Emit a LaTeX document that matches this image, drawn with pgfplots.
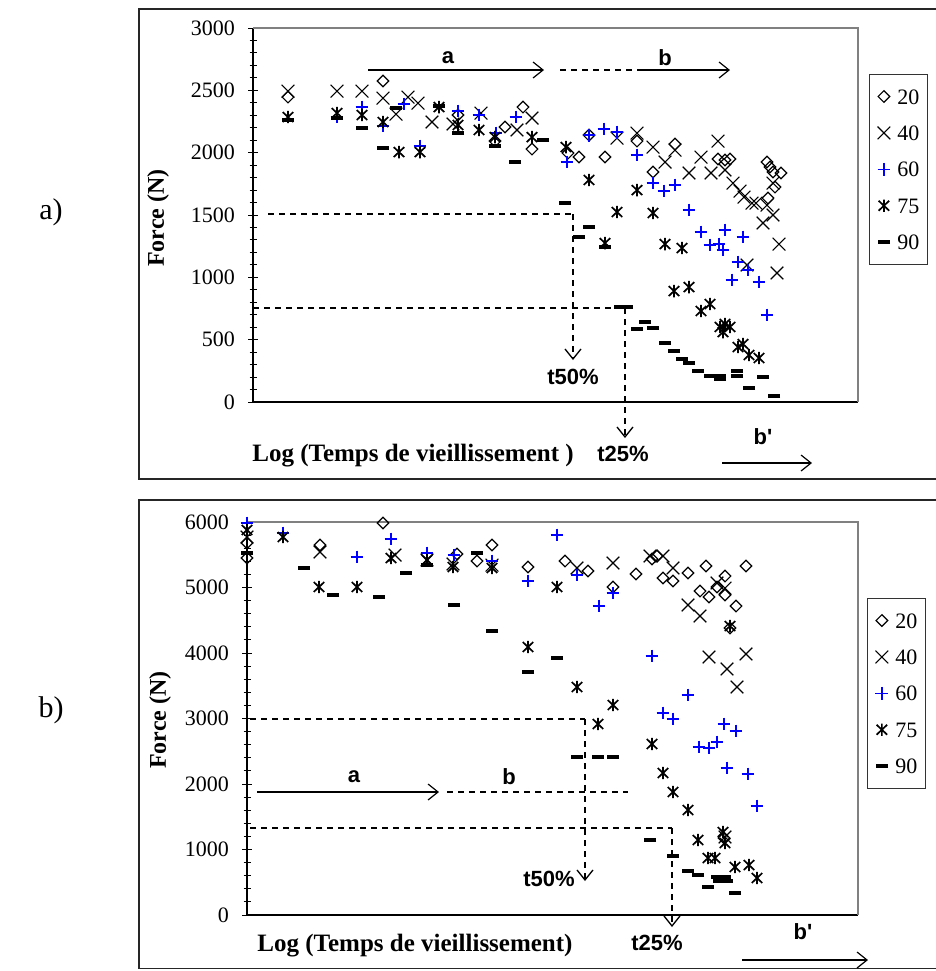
\documentclass[border=0pt]{standalone}
\usepackage{fontspec}
\setmainfont{Liberation Serif}
\newfontfamily\sansb{Liberation Sans}
\usepackage{pgfplots}
\pgfplotsset{compat=1.18}
\usetikzlibrary{arrows.meta}

\pgfdeclareplotmark{xast}{%
  \pgfpathmoveto{\pgfqpoint{0pt}{-\pgfplotmarksize}}%
  \pgfpathlineto{\pgfqpoint{0pt}{\pgfplotmarksize}}%
  \pgfpathmoveto{\pgfqpoint{-.85\pgfplotmarksize}{-.8\pgfplotmarksize}}%
  \pgfpathlineto{\pgfqpoint{.85\pgfplotmarksize}{.8\pgfplotmarksize}}%
  \pgfpathmoveto{\pgfqpoint{-.85\pgfplotmarksize}{.8\pgfplotmarksize}}%
  \pgfpathlineto{\pgfqpoint{.85\pgfplotmarksize}{-.8\pgfplotmarksize}}%
  \pgfusepathqstroke
}

\pgfplotsset{
  panel/.style={
    scale only axis, clip=false,
    axis x line*=bottom, axis y line*=left,
    axis line style={-, black, line width=0.75pt},
    xtick=\empty,
    tick align=center,
    major tick length=5pt, minor tick length=3.5pt,
    minor y tick num=4,
    tick style={black, line width=0.5pt},
    yticklabel style={font=\fontsize{11}{12}\selectfont, anchor=east, xshift=-3pt},
    legend cell align=left,
    legend image code/.code={\draw[mark repeat=2,mark phase=2,##1] plot coordinates {(0pt,0pt)(3pt,0pt)(6pt,0pt)};},
    legend style={anchor=north west, draw=black!80, line width=0.5pt, fill=white,
      font=\fontsize{11}{12}\selectfont, inner xsep=4pt, inner ysep=7.25pt,
      row sep=10.7pt,
      nodes={inner sep=0pt, text height=7.5pt, text depth=0pt},
      /tikz/every odd column/.append style={column sep=3.5pt}},
  },
  s20/.style={only marks, black, mark=square, mark size=2.05pt, mark options={rotate=45, line width=0.6pt, draw=black, solid}},
  s40/.style={only marks, black, mark=x, mark size=4.5pt, mark options={line width=0.55pt, draw=black, solid}},
  s60/.style={only marks, blue, mark=+, mark size=3.2pt, mark options={line width=0.7pt, draw=blue, solid}},
  s75/.style={only marks, black, mark=xast, mark size=3.1pt, mark options={line width=0.85pt, draw=black, solid}},
  s90/.style={only marks, black, mark=-, mark size=3.1pt, mark options={line width=1.8pt, draw=black, solid}},
}

\begin{document}
\begin{tikzpicture}
\path[use as bounding box] (0,0) rectangle (468pt,-485.5pt);

% ---------------- panel a ----------------
\begin{axis}[panel, at={(126.5pt,-201pt)}, anchor=south west,
  width=302.5pt, height=187pt,
  xmin=253, xmax=858, ymin=0, ymax=3000,
  ytick={0,500,1000,1500,2000,2500,3000},
  yticklabels={0,500,1000,1500,2000,2500,3000},
  legend style={at={(1.0182,0.877)}}]
\addplot[s20] coordinates {(288,2446) (383,2575) (458,2302) (495,2093) (505,2206) (523,2366) (532,2029) (568,1997) (579,1965) (589,2141) (605,1965) (637,2093) (653,1845) (675,2069) (718,1949) (725,1941) (730,1949) (767,1925) (770,1885) (773,1845) (781,1837) (775,1724) (768,1636)};
\addplot[s40] coordinates {(288,2494) (337,2494) (362,2494) (383,2438) (396,2310) (408,2446) (418,2398) (432,2246) (453,2230) (481,2318) (517,2182) (532,2278) (617,2117) (637,2157) (653,2045) (665,1925) (675,2021) (689,1837) (701,1965) (711,1837) (718,2093) (725,1861) (733,1756) (740,1692) (744,1644) (752,1596) (756,1596) (773,1756) (767,1580) (773,1500) (763,1436) (747,1099) (779,1267) (777,1035)};
\addplot[s60] coordinates {(337,2286) (362,2366) (383,2214) (404,2390) (420,2053) (458,2334) (479,2302) (496,2157) (516,2286) (567,1925) (589,2141) (604,2190) (617,2165) (637,1981) (653,1756) (664,1692) (675,1740) (689,1540) (701,1363) (710,1259) (719,1267) (723,1219) (725,1380) (743,1323) (738,1123) (748,1059) (732,979) (759,962) (767,698)};
\addplot[s75] coordinates {(288,2286) (337,2318) (362,2302) (383,2246) (399,2005) (420,2005) (439,2366) (458,2222) (479,2182) (495,2125) (532,2125) (566,2045) (589,1781) (605,1275) (617,1524) (637,1700) (653,1516) (665,1267) (682,1235) (674,890) (689,922) (701,730) (710,786) (720,602) (725,626) (730,602) (723,561) (738,441) (743,465) (749,377) (759,353)};
\addplot[s90] coordinates {(288,2262) (337,2278) (362,2198) (383,2037) (396,2358) (439,2374) (458,2157) (495,2053) (515,1925) (543,2101) (565,1596) (579,1323) (589,1404) (605,1243) (620,762) (627,762) (637,585) (645,642) (653,593) (665,473) (674,409) (682,345) (689,313) (698,249) (710,208) (720,208) (720,184) (737,249) (737,208) (749,112) (763,200) (774,48)};
\legend{20,40,60,75,90}
\draw[gray, line width=0.75pt] (rel axis cs:0,1) -- (rel axis cs:1,1) -- (rel axis cs:1,0);
\end{axis}

% ---------------- panel b ----------------
\begin{axis}[panel, at={(123.5pt,-457.5pt)}, anchor=south west,
  width=305.5pt, height=196.5pt,
  xmin=247, xmax=858, ymin=0, ymax=6000,
  ytick={0,1000,2000,3000,4000,5000,6000},
  yticklabels={0,1000,2000,3000,4000,5000,6000},
  legend style={at={(1.0147,0.8066)}}]
\addplot[s20] coordinates {(247,5679) (247,5450) (320,5649) (383,5985) (457,5511) (477,5404) (492,5649) (528,5313) (565,5404) (588,5252) (613,5008) (636,5206) (652,5435) (657,5481) (663,5145) (673,5099) (688,5221) (706,5328) (700,4946) (709,4855) (717,5008) (725,5175) (725,4885) (736,4717) (746,5328) (730,4382) (724,1176)};
\addplot[s40] coordinates {(247,5771) (320,5542) (395,5496) (427,5420) (453,5359) (492,5343) (577,5298) (613,5374) (650,5481) (663,5481) (673,5298) (688,4733) (700,4565) (717,5069) (725,4992) (709,3939) (727,3756) (746,3985) (737,3481) (725,1191)};
\addplot[s60] coordinates {(247,5985) (283,5832) (357,5466) (391,5740) (427,5527) (454,5496) (492,5404) (528,5099) (557,5801) (577,5191) (613,4916) (599,4717) (652,3954) (688,3359) (663,3084) (673,2992) (724,2916) (736,2809) (699,2565) (709,2550) (717,2641) (727,2244) (748,2153) (757,1664)};
\addplot[s75] coordinates {(247,5878) (283,5771) (319,5008) (357,5008) (391,5450) (427,5420) (453,5313) (492,5298) (528,4092) (557,5008) (577,3481) (598,2916) (613,3206) (652,2611) (663,2168) (673,1878) (688,1603) (698,1145) (708,870) (715,870) (723,1267) (725,1099) (730,4412) (735,733) (749,763) (757,565)};
\addplot[s90] coordinates {(247,5527) (304,5298) (333,4885) (379,4855) (406,5221) (427,5343) (454,4733) (477,5527) (492,4336) (528,3710) (557,3924) (577,2412) (598,2412) (613,2412) (650,1145) (673,901) (688,672) (698,611) (708,427) (717,580) (725,580) (719,519) (727,519) (735,336)};
\legend{20,40,60,75,90}
\draw[gray, line width=0.75pt] (rel axis cs:0,1) -- (rel axis cs:1,1) -- (rel axis cs:1,0);
\end{axis}

% ---------------- annotations (pixel coordinates) ----------------
\begin{scope}[x=0.5pt,y=-0.5pt,
  ann/.style={line width=0.6pt},
  dsh/.style={dash pattern=on 3pt off 2.5pt, line width=0.65pt},
  tip/.style={-{Straight Barb[length=5pt,width=8pt]}},
  lab/.style={font=\sansb\bfseries\fontsize{11}{12}\selectfont, inner sep=0pt}]
% frames
\draw[line width=0.75pt, black!85] (940,9) -- (139,9) -- (139,479) -- (940,479);
\draw[line width=0.75pt, black!85] (940,500) -- (139,500) -- (139,968.5) -- (940,968.5);
% panel labels
\node[font=\fontsize{15}{16}\selectfont] at (51,212) {a)};
\node[font=\fontsize{15}{16}\selectfont] at (51,710) {b)};
\node[font=\bfseries\fontsize{12}{14}\selectfont, rotate=90] at (158,218) {Force (N)};
\node[font=\bfseries\fontsize{12}{14}\selectfont, rotate=90] at (160,720) {Force (N)};
\node[font=\bfseries\fontsize{12.5}{14}\selectfont] at (413,456) {Log (Temps de vieillissement )};
\node[font=\bfseries\fontsize{12.5}{14}\selectfont] at (415,946) {Log (Temps de vieillissement)};
% panel a annotations
\draw[ann, tip] (368,70) -- (544,70);
\node[lab] at (448,58) {a};
\draw[dsh] (560,70) -- (637,70);
\draw[ann, tip] (637,70) -- (730,70);
\node[lab] at (665,58) {b};
\draw[dsh] (268,214) -- (573,214);
\draw[dsh, tip] (573,214) -- (573,360);
\node[lab] at (573,377) {t50\%};
\draw[dsh] (253,308) -- (625,308);
\draw[dsh, tip] (625,308) -- (625,438);
\node[lab] at (623,454) {t25\%};
\node[lab] at (763,437) {b\textquotesingle};
\draw[ann, tip] (722,463) -- (812,463);
% panel b annotations
\draw[dsh] (250,719) -- (585,719);
\draw[dsh, tip] (585,719) -- (585,881);
\node[lab] at (549,879) {t50\%};
\draw[ann, tip] (257,792) -- (439,792);
\node[lab] at (354,777) {a};
\draw[dsh] (447,792) -- (628,792);
\node[lab] at (509,777) {b};
\draw[dsh] (250,828) -- (672,828);
\draw[dsh, tip] (672,828) -- (672,927);
\node[lab] at (657,943) {t25\%};
\node[lab] at (803,932) {b\textquotesingle};
\draw[ann, tip] (742,960) -- (868,960);
\end{scope}
\end{tikzpicture}
\end{document}
